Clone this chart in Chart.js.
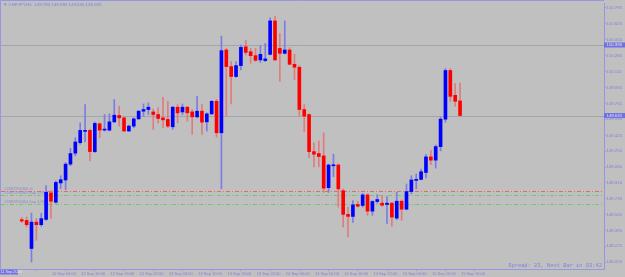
<!DOCTYPE html>
<html>
<head>
<meta charset="utf-8">
<script src="https://cdn.jsdelivr.net/npm/chart.js@4.4.0/dist/chart.umd.min.js"></script>
<style>
  html, body { margin: 0; padding: 0; background: #c0c0c0; }
  #wrap { width: 625px; height: 277px; }
</style>
</head>
<body>
<div id="wrap"><canvas id="priceChart" width="625" height="277"></canvas></div>
<script>
// H1 candles (price)
const opens = [148.512, 148.504, 148.201, 148.486, 148.458, 148.515, 148.801, 148.700, 148.908, 148.940,
  149.111, 149.229, 149.342, 149.464, 149.475, 149.246, 149.546, 149.478, 149.478, 149.567,
  149.636, 149.610, 149.468, 149.521, 149.599, 149.682, 149.700, 149.674, 149.646, 149.610,
  149.593, 149.514, 149.725, 149.674, 149.725, 149.674, 149.621, 149.682, 149.567, 149.653,
  149.789, 149.449, 150.342, 150.163, 150.056, 150.174, 150.377, 150.324, 150.281, 150.235,
  150.228, 150.295, 150.656, 150.359, 150.306, 150.342, 150.188, 150.156, 149.700, 149.646,
  149.246, 149.225, 149.200, 148.857, 149.093, 149.102, 148.825, 148.569, 148.547, 148.676,
  148.665, 148.779, 148.604, 148.708, 148.690, 148.676, 148.690, 148.529, 148.711, 148.625,
  148.815, 148.936, 148.946, 149.021, 149.189, 149.154, 149.300, 149.596, 150.121, 149.853,
  149.793];
const highs = [148.536, 148.540, 148.583, 148.526, 148.579, 148.879, 148.825, 148.932, 148.986, 149.128,
  149.282, 149.396, 149.556, 149.753, 149.486, 149.564, 149.556, 149.646, 149.653, 149.807,
  149.735, 149.617, 149.532, 149.610, 149.692, 149.760, 149.771, 149.706, 149.717, 149.832,
  149.789, 149.735, 149.753, 149.760, 149.735, 149.700, 149.842, 149.760, 149.664, 149.796,
  149.810, 150.492, 150.359, 150.217, 150.217, 150.396, 150.449, 150.359, 150.359, 150.388,
  150.413, 150.688, 150.709, 150.520, 150.656, 150.367, 150.295, 150.174, 149.753, 149.653,
  149.342, 149.361, 149.449, 149.111, 149.218, 149.114, 148.844, 148.647, 148.718, 148.711,
  148.796, 148.790, 148.718, 148.783, 148.772, 148.761, 148.700, 148.807, 148.726, 148.897,
  148.986, 149.004, 149.058, 149.218, 149.261, 149.318, 149.617, 150.142, 150.142, 149.981,
  149.985];
const lows = [148.483, 148.433, 148.055, 148.290, 148.440, 148.504, 148.526, 148.690, 148.847, 148.836,
  149.093, 149.200, 149.325, 149.350, 149.147, 149.235, 149.396, 149.468, 149.468, 149.556,
  149.521, 149.460, 149.460, 149.503, 149.593, 149.628, 149.646, 149.486, 149.556, 149.503,
  149.503, 149.486, 149.556, 149.646, 149.575, 149.432, 149.610, 149.432, 149.468, 149.646,
  149.403, 148.844, 149.628, 149.760, 150.046, 150.128, 150.289, 150.199, 150.217, 150.209,
  150.217, 150.289, 150.228, 150.003, 150.299, 150.182, 150.021, 149.628, 149.460, 149.182,
  149.082, 149.082, 148.807, 148.807, 148.975, 148.647, 148.433, 148.326, 148.483, 148.647,
  148.647, 148.558, 148.558, 148.690, 148.654, 148.469, 148.440, 148.512, 148.504, 148.619,
  148.790, 148.844, 148.940, 148.961, 149.104, 149.068, 149.254, 149.564, 149.789, 149.735,
  149.630];
const closes = [148.497, 148.458, 148.486, 148.458, 148.523, 148.807, 148.711, 148.914, 148.943, 149.111,
  149.225, 149.350, 149.475, 149.475, 149.246, 149.550, 149.478, 149.489, 149.567, 149.639,
  149.610, 149.468, 149.521, 149.599, 149.682, 149.700, 149.725, 149.646, 149.604, 149.589,
  149.521, 149.725, 149.664, 149.725, 149.664, 149.621, 149.682, 149.564, 149.653, 149.789,
  149.449, 150.335, 150.163, 150.056, 150.174, 150.370, 150.316, 150.281, 150.231, 150.295,
  150.246, 150.656, 150.235, 150.306, 150.342, 150.188, 150.156, 149.700, 149.628, 149.246,
  149.218, 149.193, 148.852, 149.102, 149.104, 148.844, 148.569, 148.547, 148.672, 148.657,
  148.779, 148.604, 148.708, 148.729, 148.668, 148.690, 148.540, 148.711, 148.625, 148.815,
  148.940, 148.946, 149.029, 149.189, 149.154, 149.300, 149.596, 150.121, 149.842, 149.789,
  149.635];

// time axis: every 6th bar gets a label
const tickCandles = [6, 12, 18, 24, 30, 36, 42, 48, 54, 60, 66, 72, 78, 84, 90];
const timeLabels = ['12 Sep 04:00', '12 Sep 10:00', '12 Sep 16:00', '12 Sep 22:00', '13 Sep 04:00',
  '13 Sep 10:00', '13 Sep 16:00', '13 Sep 22:00', '14 Sep 04:00', '14 Sep 10:00', '14 Sep 16:00',
  '14 Sep 22:00', '15 Sep 04:00', '15 Sep 10:00', '15 Sep 16:00'];

// price scale
const priceTicks = [150.795, 150.625, 150.450, 150.280, 150.110, 149.935, 149.765, 149.595, 149.420,
  149.250, 149.080, 148.910, 148.735, 148.565, 148.395, 148.225, 148.055];
const grayLevels = [150.396, 149.635];   // horizontal line + bid line (highlighted on the axis)
const orderLevels = [148.822, 148.775, 148.684];
const orderLabels = ['#2887294466 sl', '#2887294465 buy 1.60', '#2887294464 buy 1.60'];
const orderColors = ['#f06464', '#6ec86e', '#6ec86e'];

const symbolText = '\u25BC CHFJPY,H1  149.793 149.985 149.630 149.635';
const spreadText = 'Spread: 23, Next Bar in 03:42';

const axisColor = '#9696e4';
const textColor = '#8080dc';

const bodies = opens.map((o, i) => ({ x: i, y: [o, closes[i]] }));
const wicks = lows.map((l, i) => ({ x: i, y: [l, highs[i]] }));
const bodyColors = opens.map((o, i) => closes[i] >= o ? '#0000ff' : '#ff0000');
const wickColors = opens.map((o, i) => closes[i] >= o ? '#7c7ce4' : '#e07c7c');

// extra drawing: level lines, labels, frame
const chartDecor = {
  id: 'chartDecor',
  beforeDatasetsDraw(chart) {
    const { ctx, chartArea: a, scales: { y } } = chart;
    ctx.save();
    ctx.lineWidth = 1;
    grayLevels.forEach(p => {
      const py = Math.round(y.getPixelForValue(p)) + 0.5;
      ctx.strokeStyle = '#a4a4ac';
      ctx.beginPath();
      ctx.moveTo(a.left, py);
      ctx.lineTo(a.right, py);
      ctx.stroke();
    });
    ctx.font = '4px "Liberation Sans"';
    ctx.textBaseline = 'bottom';
    orderLevels.forEach((p, k) => {
      const py = Math.round(y.getPixelForValue(p)) + 0.5;
      ctx.strokeStyle = orderColors[k];
      ctx.setLineDash([4, 2, 1, 2]);
      ctx.beginPath();
      ctx.moveTo(a.left, py);
      ctx.lineTo(a.right, py);
      ctx.stroke();
      ctx.fillStyle = '#8a8ad6';
      ctx.fillText(orderLabels[k], a.left + 3, py - 1);
    });
    ctx.restore();
  },
  afterDraw(chart) {
    const { ctx, chartArea: a, scales: { y } } = chart;
    ctx.save();
    // frame top / left
    ctx.strokeStyle = axisColor;
    ctx.lineWidth = 1;
    ctx.beginPath();
    ctx.moveTo(0.5, a.bottom);
    ctx.lineTo(0.5, 0.5);
    ctx.lineTo(a.right, 0.5);
    ctx.stroke();

    ctx.fillStyle = textColor;
    ctx.font = '4.4px "Liberation Sans"';
    ctx.textBaseline = 'middle';
    ctx.textAlign = 'left';
    ctx.fillText(symbolText, 3, 4.5);

    ctx.font = '5.4px "Liberation Mono"';
    ctx.textAlign = 'right';
    ctx.fillText(spreadText, 602, 266);

    // highlighted prices on the right axis
    ctx.textAlign = 'left';
    ctx.font = '4.3px "Liberation Sans"';
    grayLevels.forEach(p => {
      const py = y.getPixelForValue(p);
      ctx.fillStyle = '#7070e0';
      ctx.fillRect(a.right, py - 2.5, 625 - a.right, 5);
      ctx.fillStyle = '#e4e4f4';
      ctx.fillText(p.toFixed(3), a.right + 2.5, py);
    });

    // first-bar date box
    ctx.fillStyle = '#7070e0';
    ctx.fillRect(0, a.bottom + 0.5, 18, 5);
    ctx.fillStyle = '#e4e4f4';
    ctx.font = '3.8px "Liberation Sans"';
    ctx.fillText('11 Sep 2023', 0.5, a.bottom + 3);
    ctx.restore();
  }
};

new Chart(document.getElementById('priceChart'), {
  type: 'bar',
  data: {
    datasets: [
      {
        data: bodies,
        backgroundColor: bodyColors,
        barThickness: 3,
        minBarLength: 1,
        grouped: false,
        borderWidth: 0
      },
      {
        data: wicks,
        backgroundColor: wickColors,
        barThickness: 1,
        grouped: false,
        borderWidth: 0
      }
    ]
  },
  options: {
    responsive: false,
    animation: false,
    layout: { padding: { left: 1, top: 1, right: 0, bottom: 0 } },
    plugins: { legend: { display: false }, tooltip: { enabled: false } },
    scales: {
      x: {
        type: 'linear',
        min: -0.134,
        max: 115.43,
        afterBuildTicks: scale => { scale.ticks = tickCandles.map(v => ({ value: v })); },
        afterFit: scale => { scale.height = 8; },
        ticks: {
          autoSkip: false,
          maxRotation: 0,
          minRotation: 0,
          align: 'start',
          padding: 0,
          color: textColor,
          font: { family: 'Liberation Sans', size: 4 },
          callback: (v, i) => ' ' + timeLabels[i]
        },
        grid: { drawOnChartArea: false, tickLength: 2, tickColor: axisColor },
        border: { color: axisColor, width: 1 }
      },
      y: {
        position: 'right',
        min: 147.980,
        max: 150.848,
        afterBuildTicks: scale => { scale.ticks = priceTicks.map(v => ({ value: v })); },
        afterFit: scale => { scale.width = 21; },
        ticks: {
          padding: 0.5,
          color: textColor,
          font: { family: 'Liberation Sans', size: 4.3 },
          callback: v => v.toFixed(3)
        },
        grid: { drawOnChartArea: false, tickLength: 2, tickColor: axisColor },
        border: { color: axisColor, width: 1 }
      }
    }
  },
  plugins: [chartDecor]
});
</script>
</body>
</html>
